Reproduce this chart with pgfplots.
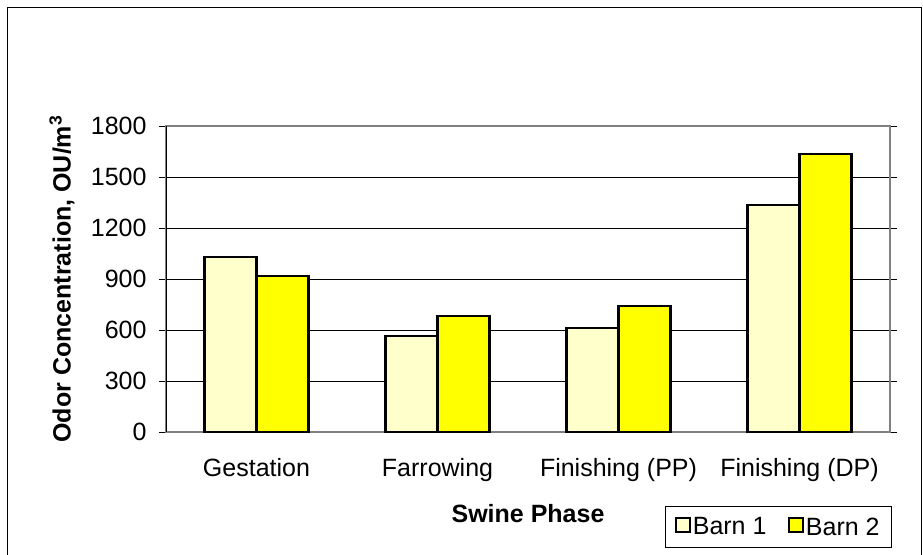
\documentclass[border=0pt]{standalone}
\usepackage{fontspec}
\setmainfont{Liberation Sans}
\usepackage{pgfplots}
\pgfplotsset{compat=1.18}
\definecolor{barnone}{HTML}{FFFFCC}
\definecolor{barntwo}{HTML}{FFFF00}
\definecolor{frgray}{HTML}{808080}
\begin{document}
\begin{tikzpicture}
\useasboundingbox (0,0) rectangle (923bp,-555bp);
\draw[black, line width=1bp] (7bp,-7bp) rectangle (921bp,-600bp);
\begin{axis}[
  at={(166bp,-432bp)}, anchor=south west,
  scale only axis, width=724bp, height=306bp,
  font=\fontsize{25bp}{30bp}\selectfont,
  /pgf/number format/assume math mode=true,
  /pgf/number format/1000 sep={},
  ybar=0pt, bar width=0.287,
  xmin=-0.5, xmax=3.5, ymin=0, ymax=1800,
  ytick={0,300,...,1800},
  ymajorgrids, major grid style={black, line width=1bp},
  axis line style={frgray, line width=1.5bp},
  tick style={black, line width=1bp},
  tick align=outside, major tick length=7bp,
  xtick={0,1,2,3},
  xticklabels={Gestation,Farrowing,Finishing (PP),Finishing (DP)},
  x tick style={draw=none},
  extra x ticks={-0.5,0.5,1.5,2.5,3.5},
  extra x tick labels={},
  extra x tick style={grid=none, tick style={black, line width=1bp}},
  xticklabel style={yshift=-16bp},
  yticklabel style={xshift=-9bp},
  xlabel={\bfseries Swine Phase},
  xlabel style={at={(axis description cs:0.5,-0.265)}, anchor=center},
  ylabel={\bfseries Odor Concentration, OU/m$^{\mathbf{3}}$},
  ylabel style={at={(axis description cs:-0.1436,0.5)}, anchor=center},
  legend columns=2,
  legend style={at={(axis description cs:0.689,-0.242)}, anchor=north west,
    draw=black, line width=1bp, inner xsep=10bp, inner ysep=9bp,
    font=\fontsize{25bp}{30bp}\selectfont,
    /tikz/every odd column/.append style={column sep=0bp},
    /tikz/every even column/.append style={column sep=20bp}},
  legend image code/.code={\draw[#1, line width=1.5bp] (0bp,-5bp) rectangle (14bp,9bp);},
]
\addplot[fill=barnone, draw=black, line width=2.2bp] coordinates {(0,1029) (1,563) (2,612) (3,1333)};
\addplot[fill=barntwo, draw=black, line width=2.2bp] coordinates {(0,918) (1,684) (2,743) (3,1637)};
\legend{Barn 1,Barn 2}
\draw[black, line width=1.2bp] (axis cs:-0.5,0) -- (axis cs:-0.5,1800);
\end{axis}
\end{tikzpicture}
\end{document}
